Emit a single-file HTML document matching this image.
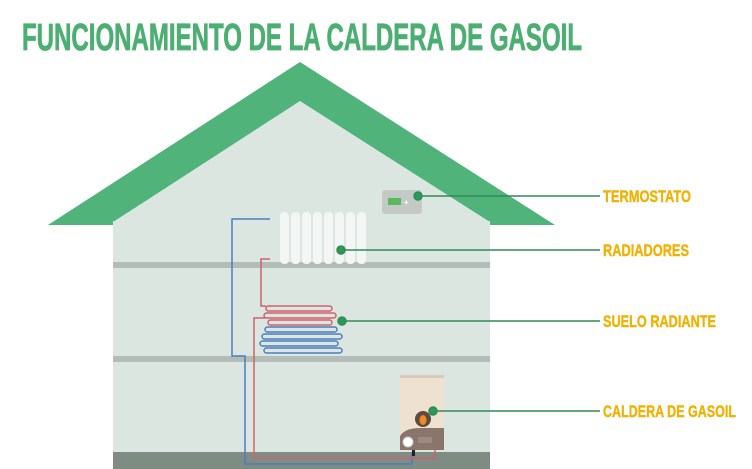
<!DOCTYPE html>
<html><head><style>
body{margin:0;background:#fff;}
svg{display:block}
text{font-family:"Liberation Sans Narrow","Liberation Sans",sans-serif;font-weight:bold;}
</style></head><body>
<svg width="752" height="469" viewBox="0 0 752 469">
<rect width="752" height="469" fill="#fff"/>
<text x="22" y="50" font-size="38" fill="#4caf72" stroke="#4caf72" stroke-width="0.8" textLength="560" lengthAdjust="spacingAndGlyphs">FUNCIONAMIENTO DE LA CALDERA DE GASOIL</text>
<rect x="113" y="200" width="377" height="269" fill="#dce6e1"/>
<polygon points="48,225 300,62 555,225" fill="#4fb37a"/>
<polygon points="113,222 300,101 490,222" fill="#dce6e1"/>
<rect x="113" y="221" width="377" height="4" fill="#dce6e1"/>
<rect x="113" y="262" width="377" height="6" fill="#b3bcb6"/>
<rect x="113" y="356" width="377" height="6" fill="#b3bcb6"/>
<rect x="113" y="452" width="377" height="17" fill="#7e8c83"/>
<rect x="382" y="190" width="40" height="24" rx="3" fill="#c3c9c5"/>
<rect x="388" y="198" width="13" height="7" fill="#5cb85c"/>
<text x="404" y="205" font-size="8" fill="#fff">+</text>
<g fill="#f4f6f5">
<rect x="280" y="212" width="9" height="52" rx="4"/><rect x="291" y="212" width="9" height="52" rx="4"/>
<rect x="302" y="212" width="9" height="52" rx="4"/><rect x="313" y="212" width="9" height="52" rx="4"/>
<rect x="324" y="212" width="9" height="52" rx="4"/><rect x="335" y="212" width="9" height="52" rx="4"/>
<rect x="346" y="212" width="9" height="52" rx="4"/><rect x="357" y="212" width="9" height="52" rx="4"/>
</g>
<g fill="none" stroke-width="1.5">
<polyline points="270,219 232,219 232,356 245,356 245,464 412,464 412,452" stroke="#4a7fc0"/>
<polyline points="270,259 261,259 261,306 266,306" stroke="#d0606c"/>
<polyline points="265,318 254,318 254,458 435,458 435,448" stroke="#d0606c"/>
<g stroke="#d0606c">
<rect x="266" y="306" width="66" height="5" rx="2.5"/>
<rect x="264" y="313" width="72" height="5" rx="2.5"/>
<rect x="268" y="320" width="64" height="5" rx="2.5"/>
</g>
<g stroke="#4a7fc0">
<rect x="265" y="327" width="72" height="5" rx="2.5"/>
<rect x="262" y="334" width="80" height="5" rx="2.5"/>
<rect x="260" y="341" width="78" height="5" rx="2.5"/>
<rect x="264" y="348" width="78" height="5" rx="2.5"/>
</g>
</g>
<rect x="400" y="375" width="44" height="75" fill="#efe1d0"/>
<rect x="400" y="375" width="44" height="3" fill="#d9cbbb"/>
<circle cx="423" cy="419" r="8" fill="#5e4a40"/>
<ellipse cx="423" cy="420" rx="3.5" ry="5" fill="#f08a1c"/>
<path d="M400,436 q5,-8 20,-8 h24 v22 h-44z" fill="#8a756b"/>
<circle cx="408" cy="442" r="5" fill="#fff" stroke="#ccc"/>
<rect x="418" y="437" width="14" height="6" fill="#9c8a80"/>
<rect x="412" y="450" width="3" height="6" fill="#222"/>
<g stroke="#2e8b57" stroke-width="1.5" fill="#2a9a55">
<line x1="418" y1="196" x2="600" y2="196"/><circle cx="418" cy="196" r="4"/>
<line x1="341" y1="250" x2="600" y2="250"/><circle cx="341" cy="250" r="4"/>
<line x1="342" y1="321" x2="600" y2="321"/><circle cx="342" cy="321" r="4"/>
<line x1="433" y1="411" x2="600" y2="411"/><circle cx="433" cy="411" r="4"/>
</g>
<g font-size="17" fill="#f2b100" stroke="#f2b100" stroke-width="0.4">
<text x="603" y="202" textLength="88" lengthAdjust="spacingAndGlyphs">TERMOSTATO</text>
<text x="603" y="256" textLength="86" lengthAdjust="spacingAndGlyphs">RADIADORES</text>
<text x="603" y="327" textLength="113" lengthAdjust="spacingAndGlyphs">SUELO RADIANTE</text>
<text x="603" y="417" textLength="133" lengthAdjust="spacingAndGlyphs">CALDERA DE GASOIL</text>
</g>
</svg>
</body></html>
